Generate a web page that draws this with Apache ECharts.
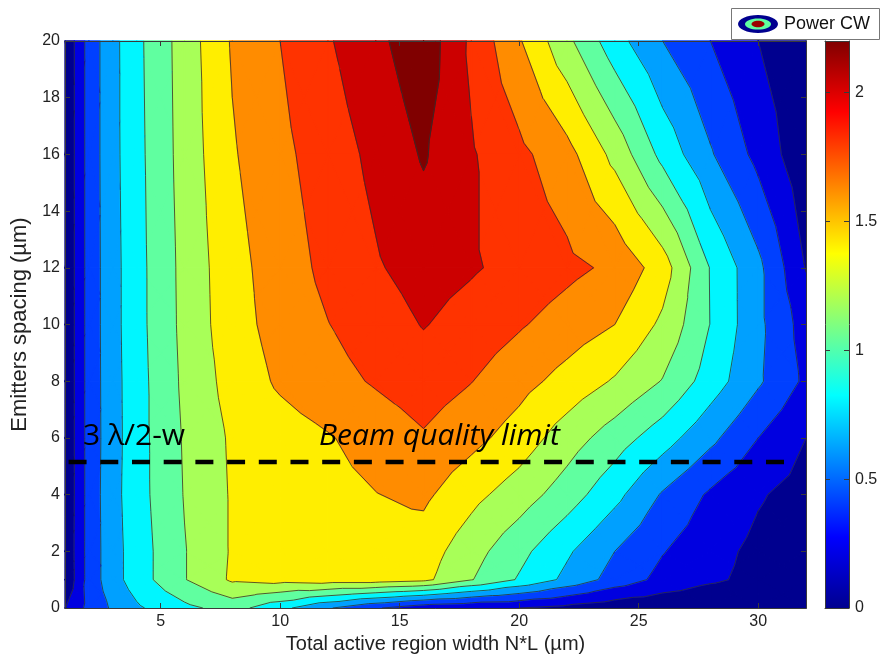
<!DOCTYPE html>
<html><head><meta charset="utf-8">
<script src="https://cdn.jsdelivr.net/npm/echarts@6/dist/echarts.min.js"></script>
<style>html,body{margin:0;padding:0;background:#fff}#c{width:881px;height:657px}</style>
</head><body><div id="c"></div>
<script>
// ---- data ----
const xGrid = [1, 2, 3, 4, 6, 8, 10, 12, 14, 16, 18, 20, 22, 24, 26, 28, 30, 32];
const yGrid = [0, 1, 2, 4, 6, 8, 10, 12, 16, 20];
const powerY0  = [0.19,0.46,0.63,0.77,0.95,1.08,0.86,0.62,0.42,0.27,0.22,0.20,0.14,0.07,0.04,0.02,0.01,0.00];
const powerY1  = [0.02,0.48,0.72,0.90,1.19,1.43,1.47,1.50,1.50,1.45,1.21,0.98,0.75,0.52,0.34,0.23,0.15,0.05];
const powerY2  = [0.03,0.48,0.72,0.90,1.19,1.42,1.46,1.49,1.51,1.50,1.28,1.06,0.83,0.60,0.41,0.27,0.15,0.07];
const powerY4  = [0.02,0.48,0.73,0.92,1.21,1.42,1.48,1.54,1.595,1.64,1.46,1.30,1.10,0.86,0.58,0.37,0.22,0.12];
const powerY6  = [0.02,0.48,0.72,0.92,1.22,1.43,1.51,1.585,1.68,1.78,1.66,1.51,1.30,1.10,0.89,0.65,0.40,0.20];
const powerY8  = [0.02,0.48,0.725,0.92,1.24,1.48,1.63,1.73,1.82,1.90,1.805,1.67,1.53,1.38,1.19,0.905,0.63,0.36];
const powerY10 = [0.02,0.48,0.73,0.93,1.255,1.52,1.675,1.795,1.90,2.01,1.92,1.82,1.71,1.60,1.36,0.995,0.65,0.31];
const powerY12 = [0.02,0.48,0.73,0.93,1.26,1.53,1.70,1.85,1.98,2.08,2.02,1.94,1.85,1.76,1.50,0.99,0.65,0.19];
const powerY16 = [0.02,0.48,0.74,0.94,1.28,1.58,1.75,1.90,2.05,2.22,2.02,1.85,1.67,1.34,0.94,0.62,0.34,0.05];
const powerY20 = [0.02,0.48,0.74,0.95,1.29,1.62,1.80,1.98,2.15,2.33,1.96,1.62,1.25,0.88,0.60,0.40,0.20,0.02];
const levels = [0.2, 0.4, 0.6, 0.8, 1.0, 1.2, 1.4, 1.6, 1.8, 2.0, 2.2];
const xTicks = [5, 10, 15, 20, 25, 30];
const colorbarTicks = [0, 0.5, 1, 1.5, 2];
const colorbarMax = 2.2;
const beamLimitY = 5.15;
const beamLimitX = [1.15, 31.1];

// ---- styles ----
const bandColors = ['#00008f','#0000e0','#0040ff','#00a0ff','#00f6ff','#60ffa0','#a8ff58','#ffee00','#ff8c00','#ff3300','#cc0000','#800000'];
const jetStops = [[0,'#00008f'],[0.125,'#0000ff'],[0.375,'#00ffff'],[0.625,'#ffff00'],[0.875,'#ff0000'],[1,'#800000']];
const zRows = [powerY0, powerY1, powerY2, powerY4, powerY6, powerY8, powerY10, powerY12, powerY16, powerY20];

const cells = [];
for (let j = 0; j < yGrid.length - 1; j++)
  for (let i = 0; i < xGrid.length - 1; i++)
    cells.push([(xGrid[i] + xGrid[i+1]) / 2, (yGrid[j] + yGrid[j+1]) / 2, i, j]);

function cellTris(i, j) {
  const p00 = [xGrid[i], yGrid[j], zRows[j][i]];
  const p10 = [xGrid[i+1], yGrid[j], zRows[j][i+1]];
  const p11 = [xGrid[i+1], yGrid[j+1], zRows[j+1][i+1]];
  const p01 = [xGrid[i], yGrid[j+1], zRows[j+1][i]];
  const c = [(p00[0]+p10[0])/2, (p00[1]+p01[1])/2, (p00[2]+p10[2]+p11[2]+p01[2])/4];
  return [[p00,p10,c],[p10,p11,c],[p11,p01,c],[p01,p00,c]];
}
function cut(a, b, l) {
  const t = (l - a[2]) / (b[2] - a[2]);
  return [a[0] + t*(b[0]-a[0]), a[1] + t*(b[1]-a[1]), l];
}
function clip(poly, l, above) {
  const out = [];
  for (let k = 0; k < poly.length; k++) {
    const cur = poly[k], prev = poly[(k + poly.length - 1) % poly.length];
    const ci = above ? cur[2] >= l : cur[2] < l;
    const pi = above ? prev[2] >= l : prev[2] < l;
    if (ci) { if (!pi) out.push(cut(prev, cur, l)); out.push(cur); }
    else if (pi) out.push(cut(prev, cur, l));
  }
  return out;
}
function renderFill(params, api) {
  const tris = cellTris(api.value(2), api.value(3));
  const children = [];
  tris.forEach(tri => {
    for (let k = 0; k < bandColors.length; k++) {
      let poly = tri;
      if (k > 0) poly = clip(poly, levels[k-1], true);
      if (poly.length >= 3 && k < levels.length) poly = clip(poly, levels[k], false);
      if (poly.length >= 3) {
        children.push({type:'polygon', silent:true,
          shape:{points: poly.map(p => api.coord([p[0], p[1]]))},
          style:{fill: bandColors[k], stroke: bandColors[k], lineWidth: 1.3, lineJoin:'round'}});
      }
    }
  });
  return {type:'group', children};
}
function renderLines(params, api) {
  const tris = cellTris(api.value(2), api.value(3));
  const children = [];
  tris.forEach(tri => {
    levels.forEach(l => {
      const pts = [];
      for (let k = 0; k < 3; k++) {
        const a = tri[k], b = tri[(k+1)%3];
        if ((a[2] >= l) !== (b[2] >= l)) pts.push(cut(a, b, l));
      }
      if (pts.length === 2) {
        const A = api.coord([pts[0][0], pts[0][1]]), B = api.coord([pts[1][0], pts[1][1]]);
        children.push({type:'line', silent:true, shape:{x1:A[0], y1:A[1], x2:B[0], y2:B[1]},
          style:{stroke:'#303030', lineWidth:0.8}});
      }
    });
  });
  return {type:'group', children};
}
function renderBar(params, api) {
  const tl = api.coord([0, colorbarMax]), br = api.coord([1, 0]);
  return {type:'rect', silent:true,
    shape:{x: tl[0], y: tl[1], width: br[0]-tl[0], height: br[1]-tl[1]},
    style:{fill: new echarts.graphic.LinearGradient(0, 1, 0, 0, jetStops.map(s => ({offset:s[0], color:s[1]})))}};
}

const lineSt = {color:'#3a3a3a', width:1};
const txt = {fontSize:16, color:'#222', fontFamily:'Liberation Sans'};
const titleTxt = {fontSize:20, color:'#222', fontFamily:'Liberation Sans'};
const chart = echarts.init(document.getElementById('c'), null, {renderer:'canvas'});
chart.setOption({
  animation:false,
  backgroundColor:'#fff',
  textStyle:{fontFamily:'Liberation Sans'},
  grid:[{left:65, top:41, width:741, height:567, outerBoundsMode:'none', containLabel:false},
        {left:825, top:41, width:24, height:567, outerBoundsMode:'none', containLabel:false}],
  xAxis:[
    {gridIndex:0, type:'value', min:1, max:32, position:'bottom', z:10,
     axisLine:{onZero:false, lineStyle:lineSt},
     axisTick:{inside:true, length:5, customValues:xTicks, lineStyle:lineSt},
     axisLabel:Object.assign({customValues:xTicks, margin:6}, txt), splitLine:{show:false},
     name:'Total active region width N*L (µm)', nameLocation:'middle', nameGap:24, nameTextStyle:titleTxt},
    {gridIndex:0, type:'value', min:1, max:32, position:'top', z:10,
     axisLine:{onZero:false, lineStyle:lineSt},
     axisTick:{inside:true, length:5, customValues:xTicks, lineStyle:lineSt},
     axisLabel:{show:false}, splitLine:{show:false}},
    {gridIndex:1, type:'value', min:0, max:1, position:'bottom', z:10,
     axisLine:{onZero:false, lineStyle:lineSt}, axisTick:{show:false}, axisLabel:{show:false}, splitLine:{show:false}},
    {gridIndex:1, type:'value', min:0, max:1, position:'top', z:10,
     axisLine:{onZero:false, lineStyle:lineSt}, axisTick:{show:false}, axisLabel:{show:false}, splitLine:{show:false}}
  ],
  yAxis:[
    {gridIndex:0, type:'value', min:0, max:20, interval:2, position:'left', z:10,
     axisLine:{onZero:false, lineStyle:lineSt},
     axisTick:{inside:true, length:5, lineStyle:lineSt},
     axisLabel:Object.assign({margin:5}, txt), splitLine:{show:false},
     name:'Emitters spacing (µm)', nameLocation:'middle', nameGap:32, nameTextStyle:Object.assign({}, titleTxt, {fontSize:22})},
    {gridIndex:0, type:'value', min:0, max:20, interval:2, position:'right', z:10,
     axisLine:{onZero:false, lineStyle:lineSt},
     axisTick:{inside:true, length:5, lineStyle:lineSt},
     axisLabel:{show:false}, splitLine:{show:false}},
    {gridIndex:1, type:'value', min:0, max:colorbarMax, position:'left', z:10,
     axisLine:{onZero:false, lineStyle:lineSt},
     axisTick:{inside:true, length:5, customValues:colorbarTicks, lineStyle:lineSt},
     axisLabel:{show:false}, splitLine:{show:false}},
    {gridIndex:1, type:'value', min:0, max:colorbarMax, position:'right', z:10,
     axisLine:{onZero:false, lineStyle:lineSt},
     axisTick:{inside:true, length:5, customValues:colorbarTicks, lineStyle:lineSt},
     axisLabel:Object.assign({customValues:colorbarTicks, margin:6}, txt), splitLine:{show:false}}
  ],
  series:[
    {type:'custom', name:'Power CW', xAxisIndex:0, yAxisIndex:0, z:1, silent:true,
     renderItem:renderFill, encode:{x:0, y:1}, data:cells},
    {type:'custom', xAxisIndex:0, yAxisIndex:0, z:2, silent:true,
     renderItem:renderLines, encode:{x:0, y:1}, data:cells},
    {type:'line', xAxisIndex:0, yAxisIndex:0, z:3, silent:true, showSymbol:false, symbol:'none',
     data:[[beamLimitX[0], beamLimitY], [beamLimitX[1], beamLimitY]],
     lineStyle:{color:'#000', width:4.5, type:[18, 13.7]}},
    {type:'custom', xAxisIndex:2, yAxisIndex:2, z:1, silent:true,
     renderItem:renderBar, encode:{x:0, y:1}, data:[[0.5, 1.1]]}
  ],
  graphic:[
    {type:'text', x:83, y:436, z:100, silent:true,
     style:{text:'3 λ/2-w', font:'30px "Open Sans", Lato, sans-serif', fill:'#000', verticalAlign:'middle'}},
    {type:'text', x:319, y:436, z:100, silent:true,
     style:{text:'Beam quality limit', font:'italic 30px "Open Sans", Lato, sans-serif', fill:'#000', verticalAlign:'middle'}},
    {type:'group', z:100, silent:true, children:[
      {type:'rect', shape:{x:731.5, y:8.5, width:148, height:31}, style:{fill:'#fff', stroke:'#777', lineWidth:1}},
      {type:'ellipse', shape:{cx:758, cy:24, rx:20, ry:9}, style:{fill:'#00008f'}},
      {type:'ellipse', shape:{cx:758, cy:24, rx:13, ry:5.6}, style:{fill:'#60ffa0'}},
      {type:'ellipse', shape:{cx:758, cy:24, rx:6.5, ry:3.3}, style:{fill:'#9a0000'}},
      {type:'text', x:784, y:24, style:{text:'Power CW', font:'18px "Liberation Sans", Arial, sans-serif', fill:'#111', verticalAlign:'middle'}}
    ]}
  ]
});
</script></body></html>
